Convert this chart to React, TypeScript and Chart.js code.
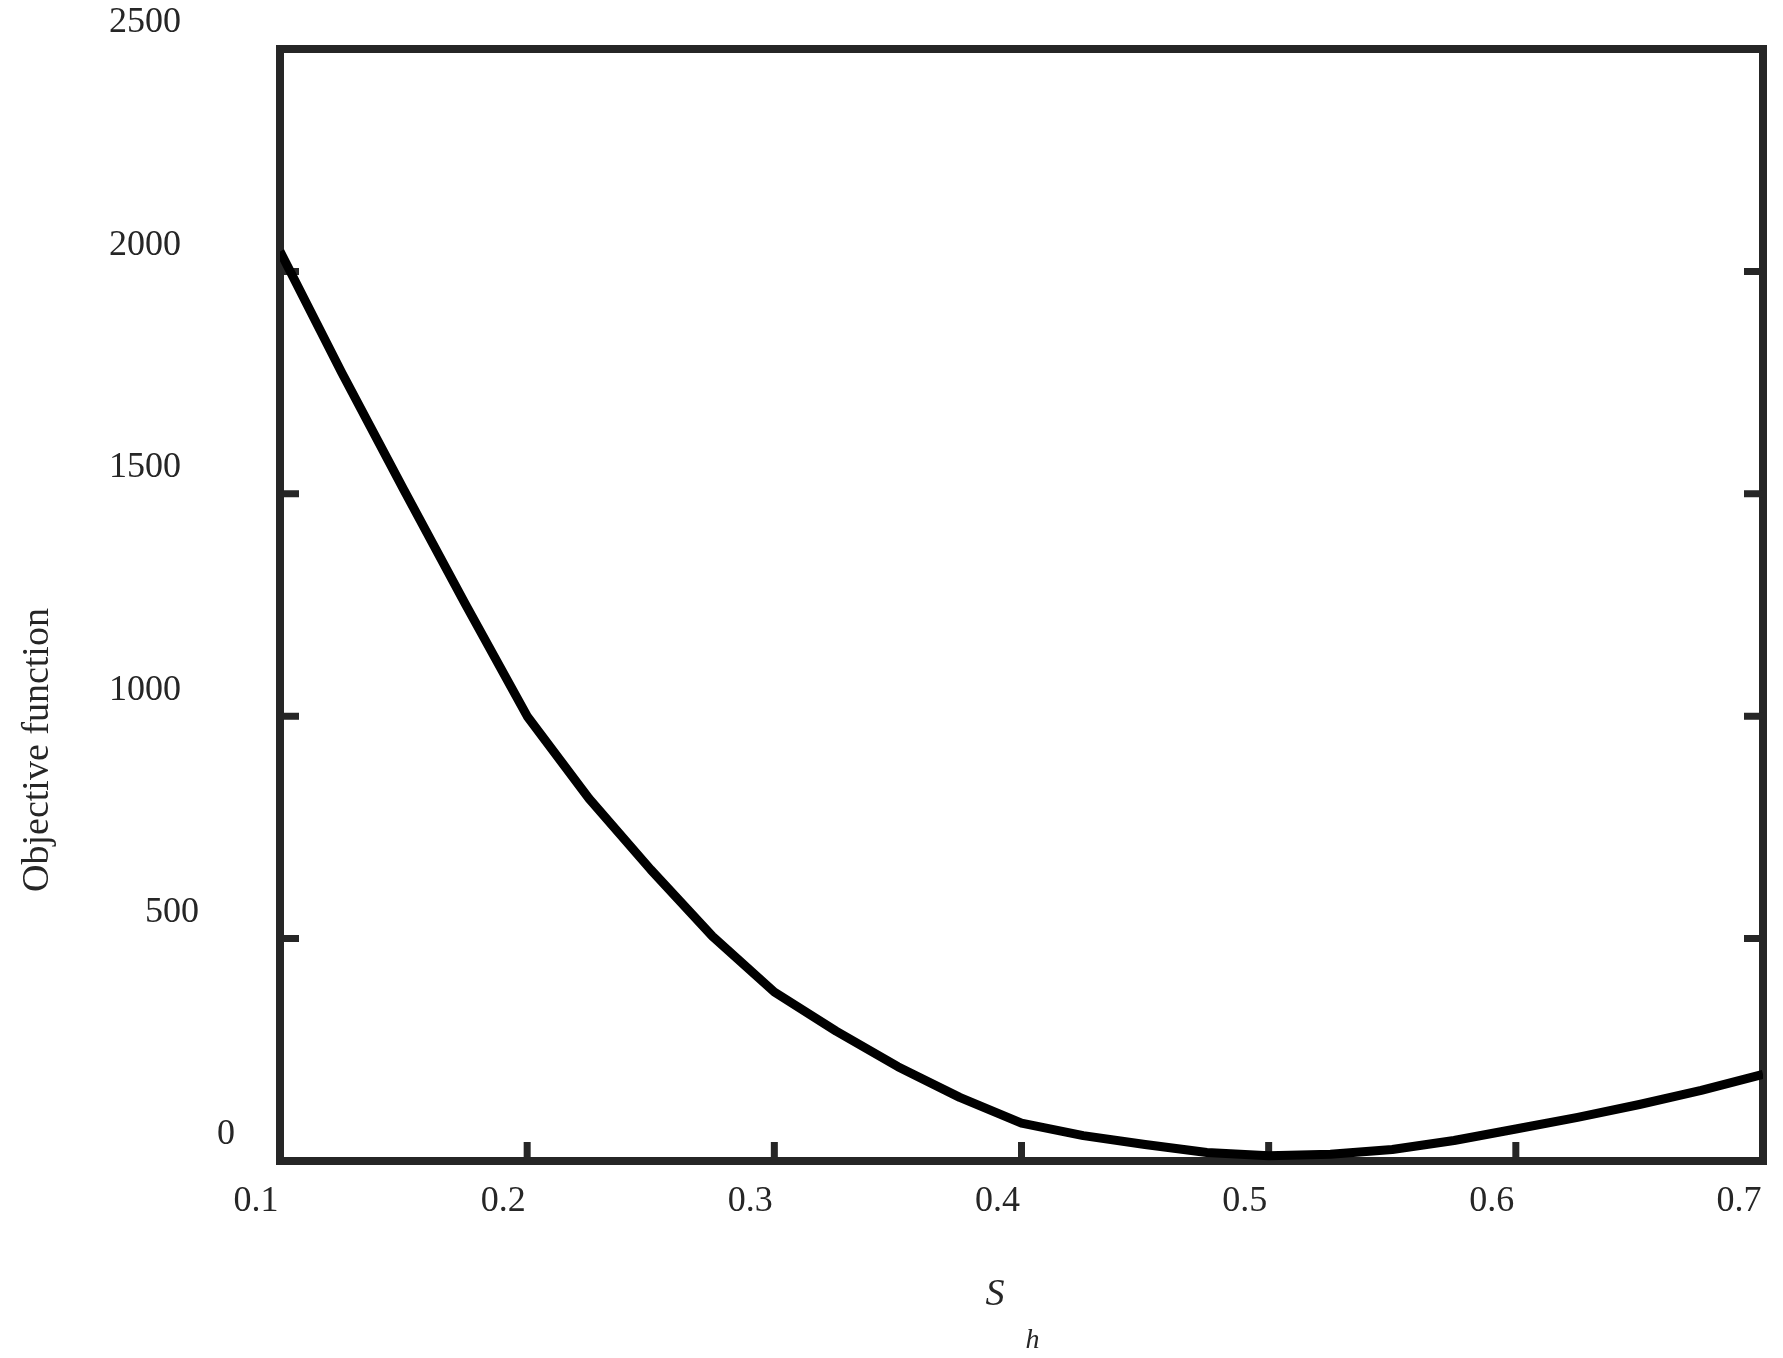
import React, { useEffect, useRef } from "react";
import { Chart, registerables } from "chart.js";

Chart.register(...registerables);

// Data
const sValues = [
  0.1, 0.125, 0.15, 0.175, 0.2, 0.225, 0.25, 0.275, 0.3, 0.325, 0.35, 0.375, 0.4,
  0.425, 0.45, 0.475, 0.5, 0.525, 0.55, 0.575, 0.6, 0.625, 0.65, 0.675, 0.7,
];
const objectiveValues = [
  2045, 1772, 1510, 1252, 1000, 815, 655, 505, 380, 292, 212, 143, 85,
  57, 37, 19, 12, 15, 26, 46, 72, 98, 127, 159, 195,
];

const xTickValues = [0.1, 0.2, 0.3, 0.4, 0.5, 0.6, 0.7];
const xTickLabels = ["0.1", "0.2", "0.3", "0.4", "0.5", "0.6", "0.7"];
const yTickValues = [0, 500, 1000, 1500, 2000, 2500];
const yTickLabels = ["0", "500", "1000", "1500", "2000", "2500"];

const xTitleMain = "S";
const xTitleSub = "h";
const yTitle = "Objective function";

const FRAME = "#262626";
const SERIF = '"Liberation Serif", "Times New Roman", serif';

export default function App() {
  const ref = useRef<HTMLCanvasElement | null>(null);

  useEffect(() => {
    if (!ref.current) return;

    const framePlugin = {
      id: "frameAndTitles",
      beforeDatasetsDraw(chart: any) {
        const { ctx, chartArea: a, scales } = chart;
        ctx.save();
        ctx.strokeStyle = FRAME;
        ctx.lineWidth = 8;
        ctx.strokeRect(a.left, a.top, a.right - a.left, a.bottom - a.top);
        ctx.lineWidth = 7;
        ctx.lineCap = "butt";
        const tl = 19;
        ctx.beginPath();
        for (const v of xTickValues) {
          const px = scales.x.getPixelForValue(v);
          ctx.moveTo(px, a.bottom);
          ctx.lineTo(px, a.bottom - tl);
        }
        for (const v of yTickValues) {
          const py = scales.y.getPixelForValue(v);
          ctx.moveTo(a.left, py);
          ctx.lineTo(a.left + tl, py);
          ctx.moveTo(a.right, py);
          ctx.lineTo(a.right - tl, py);
        }
        ctx.stroke();
        ctx.restore();
      },
      afterDraw(chart: any) {
        const { ctx, chartArea: a } = chart;
        const cx = (a.left + a.right) / 2;
        const cy = (a.top + a.bottom) / 2;
        ctx.save();
        ctx.fillStyle = FRAME;
        ctx.textAlign = "left";
        ctx.textBaseline = "alphabetic";
        ctx.font = `italic 38px ${SERIF}`;
        ctx.fillText(xTitleMain, cx - 36, a.bottom + 144);
        ctx.font = `italic 28px ${SERIF}`;
        ctx.fillText(xTitleSub, cx + 4, a.bottom + 187);
        ctx.translate(40, cy + 145);
        ctx.rotate(-Math.PI / 2);
        ctx.textAlign = "center";
        ctx.font = `38px ${SERIF}`;
        ctx.fillText(yTitle, 0, 0);
        ctx.restore();
      },
    };

    const chart = new Chart(ref.current, {
      type: "line",
      data: {
        datasets: [
          {
            data: sValues.map((s, i) => ({ x: s, y: objectiveValues[i] })),
            borderColor: "#000000",
            borderWidth: 9,
            borderJoinStyle: "round",
            pointRadius: 0,
            tension: 0,
            fill: false,
          },
        ],
      },
      options: {
        animation: false,
        responsive: true,
        maintainAspectRatio: false,
        layout: { padding: { top: 41, right: 12, left: 0, bottom: 0 } },
        plugins: {
          legend: { display: false },
          tooltip: { enabled: false },
          title: { display: false },
        },
        scales: {
          x: {
            type: "linear",
            min: 0.1,
            max: 0.7,
            grid: { display: false, drawTicks: false },
            border: { display: false },
            afterBuildTicks: (s: any) => {
              s.ticks = xTickValues.map((v) => ({ value: v }));
            },
            afterFit: (s: any) => {
              s.height = 189;
              s.paddingLeft = 0;
              s.paddingRight = 0;
              s.paddingTop = 0;
              s.paddingBottom = 0;
            },
            ticks: {
              color: FRAME,
              font: { family: SERIF, size: 36 },
              padding: 19,
              labelOffset: -24,
              maxRotation: 0,
              autoSkip: false,
              callback: (_v: any, i: number) => xTickLabels[i],
            },
          },
          y: {
            type: "linear",
            min: 0,
            max: 2500,
            grid: { display: false, drawTicks: false },
            border: { display: false },
            afterBuildTicks: (s: any) => {
              s.ticks = yTickValues.map((v) => ({ value: v }));
            },
            afterFit: (s: any) => {
              s.width = 272;
              s.paddingLeft = 0;
              s.paddingRight = 0;
              s.paddingTop = 0;
              s.paddingBottom = 0;
            },
            ticks: {
              color: FRAME,
              font: { family: SERIF, size: 36 },
              padding: 27,
              labelOffset: -26,
              autoSkip: false,
              callback: (_v: any, i: number) =>
                yTickLabels[i] + " ".repeat(2 * yTickLabels[i].length),
            },
          },
        },
      },
      plugins: [framePlugin],
    });

    return () => chart.destroy();
  }, []);

  return (
    <div style={{ width: 1767, height: 1342, position: "relative" }}>
      <canvas ref={ref} />
    </div>
  );
}
